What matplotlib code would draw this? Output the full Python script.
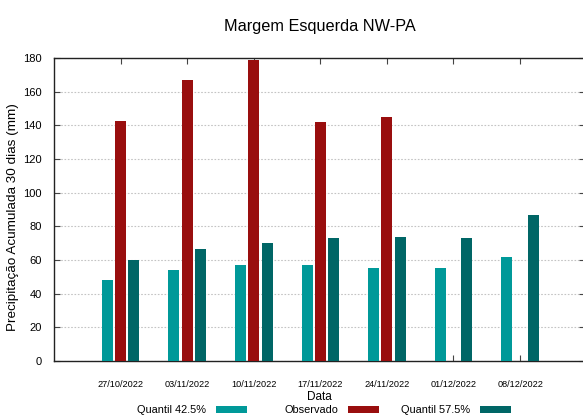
import numpy as np
import matplotlib.pyplot as plt

# Dados
datas = ['27/10/2022', '03/11/2022', '10/11/2022', '17/11/2022',
         '24/11/2022', '01/12/2022', '08/12/2022']
q425 = [48.1, 53.9, 57.2, 56.8, 55.0, 55.1, 61.6]
observado = [142.6, 167.0, 178.8, 142.0, 145.0, np.nan, np.nan]
q575 = [60.2, 66.7, 70.2, 73.2, 73.7, 73.3, 86.7]

cor_q425 = '#009999'
cor_obs = '#990e0e'
cor_q575 = '#006666'

plt.rcParams['font.family'] = ['Liberation Sans', 'DejaVu Sans']

fig = plt.figure(figsize=(5.83, 4.17), dpi=100)
ax = fig.add_axes([54 / 583, 56 / 417, 1.0 - 54 / 583 + 0.004, 303 / 417])

x = np.arange(1, len(datas) + 1)
w = 0.165
ax.bar(x - 0.2, q425, w, color=cor_q425, label='Quantil 42.5%', zorder=3)
ax.bar(x, observado, w, color=cor_obs, label='Observado', zorder=3)
ax.bar(x + 0.2, q575, w, color=cor_q575, label='Quantil 57.5%', zorder=3)

ax.set_xlim(0, 7.98)
ax.set_ylim(0, 180)
ax.set_yticks(np.arange(0, 181, 20))
ax.set_xticks(x)
ax.set_xticklabels(datas, fontsize=6.6)
ax.tick_params(axis='x', direction='in', length=4, top=True, pad=14, color='#444444')
ax.tick_params(axis='y', direction='in', length=4, right=True, labelsize=8, pad=9,
               color='#444444')
ax.grid(axis='y', linestyle=(0, (1.5, 1.5)), color='#c4c4c4', linewidth=0.8, zorder=0)
for s in ax.spines.values():
    s.set_linewidth(1.0)
    s.set_color('#222222')

ax.set_title('Margem Esquerda NW-PA', fontsize=11.7, pad=19.5)
ax.set_ylabel('Precipitação Acumulada 30 dias (mm)', fontsize=9.7)
ax.yaxis.set_label_coords(-0.066, 0.474)
ax.set_xlabel('Data', fontsize=8.5, labelpad=1)

# legenda estilo gnuplot: colunas de largura fixa, texto a esquerda da caixa
handles, labels = ax.get_legend_handles_labels()
for i, (h, l) in enumerate(zip(handles, labels)):
    leg = fig.legend([h], [l], loc='center right',
                     bbox_to_anchor=((247 + 132 * i) / 583, 0.016),
                     frameon=False, markerfirst=False, fontsize=7.9,
                     handlelength=2.85, handleheight=0.6, handletextpad=0.85,
                     borderpad=0, borderaxespad=0)

fig.savefig('out.png', dpi=100)
